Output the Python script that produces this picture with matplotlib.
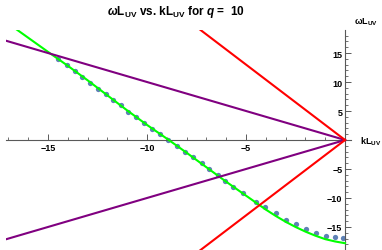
import matplotlib
matplotlib.use("Agg")
import matplotlib.pyplot as plt
from matplotlib.ticker import MultipleLocator

plt.rcParams['font.family'] = ['Liberation Sans', 'DejaVu Sans']
plt.rcParams['font.weight'] = 'bold'
plt.rcParams['mathtext.fontset'] = 'custom'
plt.rcParams['mathtext.rm'] = 'Liberation Sans:bold'
plt.rcParams['mathtext.it'] = 'Liberation Sans:bold:italic'
plt.rcParams['mathtext.bf'] = 'Liberation Sans:bold'

# numerical dispersion points
dots_k = [-14.48, -14.06, -13.65, -13.27, -12.88, -12.47, -12.07, -11.70, -11.33,
          -10.94, -10.56, -10.15, -9.76, -9.34, -8.92, -8.47, -8.08, -7.66, -7.24,
          -6.85, -6.43, -6.05, -5.64, -5.14, -4.51, -4.02, -3.50, -2.98, -2.47,
          -1.97, -1.48, -0.97, -0.51, -0.09]
dots_w = [13.97, 12.93, 11.84, 10.81, 9.78, 8.79, 7.88, 6.90, 5.95,
          4.88, 3.91, 2.93, 1.90, 0.98, 0.0, -0.98, -2.02, -2.98, -4.02,
          -5.0, -6.03, -7.0, -8.16, -9.19, -10.64, -11.64, -12.64, -13.74, -14.53,
          -15.34, -15.98, -16.5, -16.78, -16.95]

# analytic curve (green)
curve_k = [-16.6, -15.0, -14.0, -13.0, -12.0, -11.0, -10.0, -8.9, -8.0, -7.0,
           -6.0, -5.5, -5.0, -4.5, -4.0, -3.5, -3.0, -2.5, -2.0, -1.5,
           -1.0, -0.5, 0.0]
curve_w = [19.1, 15.2, 12.8, 10.3, 7.7, 5.1, 2.6, 0.0, -2.2, -4.7,
           -7.2, -8.4, -9.6, -10.8, -12.0, -13.1, -14.1, -15.0, -15.8, -16.5,
           -17.1, -17.5, -17.8]

# light-cone lines
line_k = [-17.5, 0.0]
purple_up = [17.5, 0.0]
purple_dn = [-17.5, 0.0]
red_up = [45.5, 0.0]
red_dn = [-45.5, 0.0]

fig = plt.figure(figsize=(3.82, 2.51), dpi=100)
ax = fig.add_axes([6 / 382, 0, 345 / 382, 220 / 251])

ax.plot(dots_k, dots_w, 'o', color='#5E81B5', markersize=3.8, markeredgewidth=0, zorder=2)
ax.plot(curve_k, curve_w, color='#00FF00', lw=1.5, zorder=3)
ax.plot(line_k, purple_up, color='#800080', lw=1.5, zorder=4)
ax.plot(line_k, purple_dn, color='#800080', lw=1.5, zorder=4)
ax.plot(line_k, red_up, color='#FF0000', lw=1.5, zorder=4)
ax.plot(line_k, red_dn, color='#FF0000', lw=1.5, zorder=4)

ax.set_xlim(-17.12, 0.3)
ax.set_ylim(-18.97, 18.97)

for s in ['top', 'right']:
    ax.spines[s].set_visible(False)
ax.spines['left'].set_position(('data', 0))
ax.spines['bottom'].set_position(('data', 0))
for s in ['left', 'bottom']:
    ax.spines[s].set_color('0.35')
    ax.spines[s].set_linewidth(0.8)
    ax.spines[s].set_clip_on(False)

ax.set_xticks([-15, -10, -5])
ax.set_yticks([-15, -10, -5, 5, 10, 15])
ax.xaxis.set_minor_locator(MultipleLocator(1))
ax.yaxis.set_minor_locator(MultipleLocator(1))
ax.tick_params(which='major', direction='in', length=4, width=0.7, color='0.35',
               labelsize=6.5, pad=2)
ax.tick_params(which='minor', direction='in', length=2, width=0.6, color='0.35')
ax.patch.set_alpha(0)

fig.text(176 / 382, 1 - 12 / 251, r'$\omega$L$_{\mathrm{UV}}$ vs. kL$_{\mathrm{UV}}$ for $q$ =  10',
         ha='center', va='center', fontsize=8.5)
fig.text(366 / 382, 1 - 22 / 251, r'ωL$_{\mathrm{UV}}$', ha='center', va='center', fontsize=6.5)
fig.text(371 / 382, 1 - 142 / 251, r'kL$_{\mathrm{UV}}$', ha='center', va='center', fontsize=6.5)

fig.savefig('out.png', dpi=100)
